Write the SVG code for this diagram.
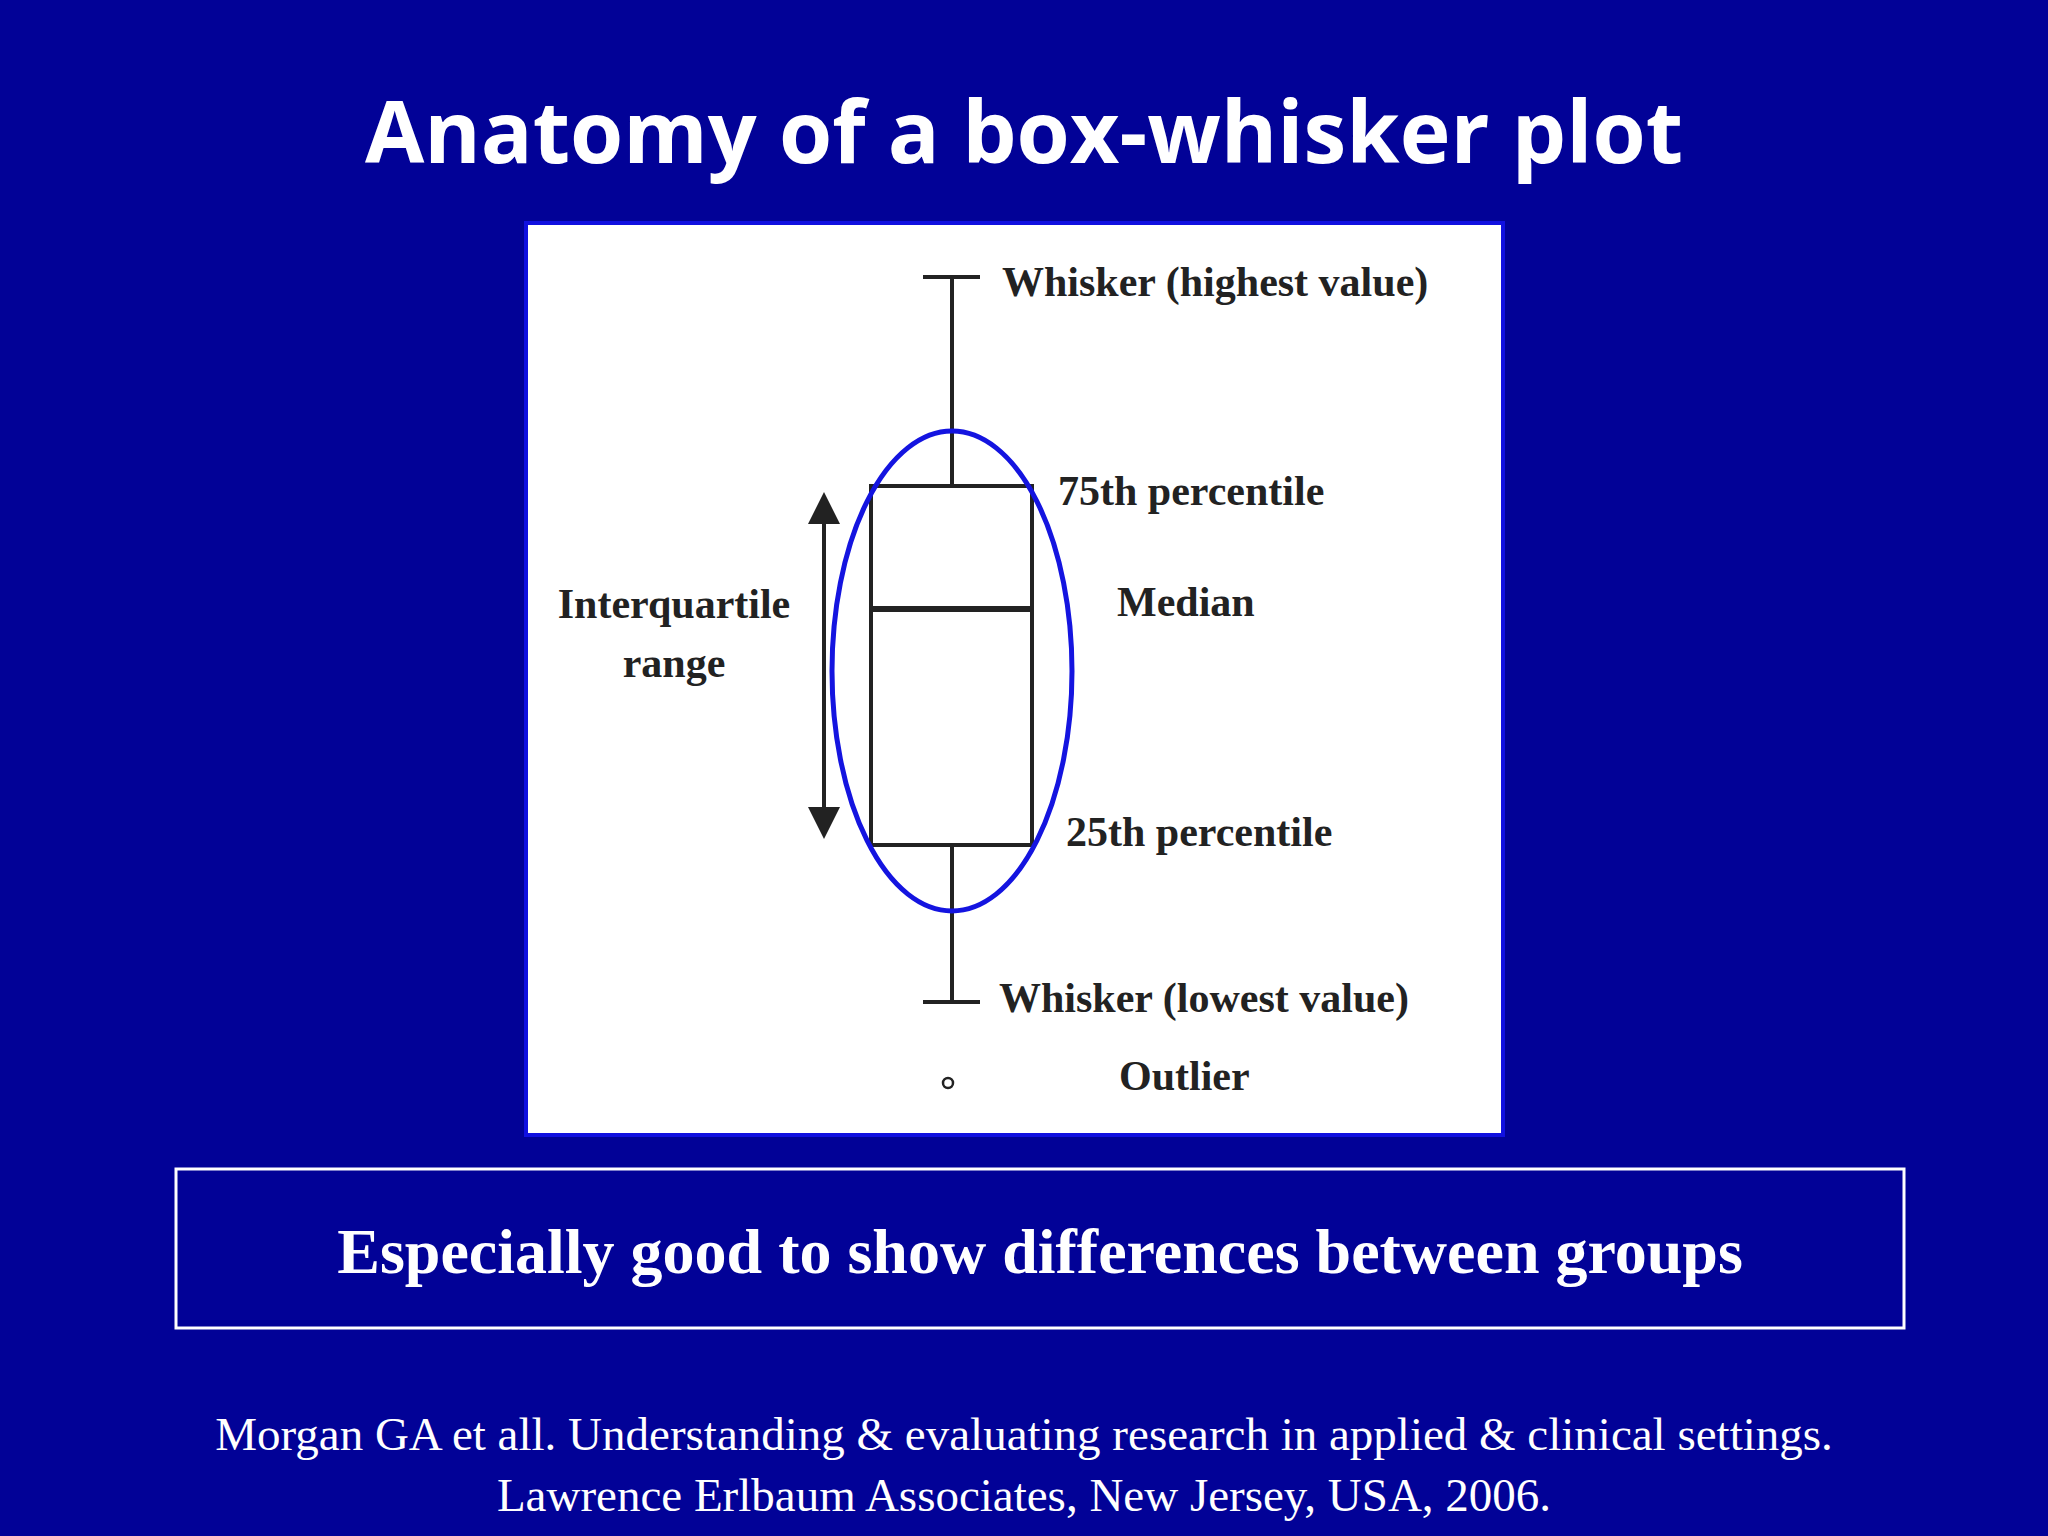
<svg xmlns="http://www.w3.org/2000/svg" width="2048" height="1536" viewBox="0 0 2048 1536">
<style>
.lbl{font-family:"Liberation Serif","Times New Roman",serif;font-weight:bold;font-size:42px;fill:#222}
.ln{stroke:#222;stroke-width:4;fill:none}
.cit{font-family:"Liberation Serif",serif;font-size:47px;fill:#fff;text-anchor:middle}
</style>
<defs><marker id="ah" markerWidth="8" markerHeight="8" refX="7" refY="4" orient="auto-start-reverse" markerUnits="strokeWidth"><path d="M0,0 L8,4 L0,8 z" fill="#222"/></marker></defs>
<rect width="2048" height="1536" fill="#020297"/>
<text x="1024" y="163" text-anchor="middle" font-family="'Open Sans','Liberation Sans',sans-serif" font-weight="bold" font-size="86" fill="#fff">Anatomy of a box-whisker plot</text>
<g id="panel"><rect x="526" y="223" width="977" height="912" fill="#fff" stroke="#1010e0" stroke-width="4"/></g>
<g id="plot">
<line class="ln" x1="952" y1="277" x2="952" y2="486"/>
<line class="ln" x1="923" y1="277" x2="980" y2="277"/>
<rect class="ln" x="871" y="486" width="161" height="359"/>
<line x1="871" y1="609" x2="1032" y2="609" stroke="#222" stroke-width="6"/>
<line class="ln" x1="952" y1="845" x2="952" y2="1002"/>
<line class="ln" x1="923" y1="1002" x2="980" y2="1002"/>
<circle cx="948" cy="1083" r="5" fill="none" stroke="#222" stroke-width="2.5"/>
<ellipse cx="952" cy="671" rx="120" ry="240" fill="none" stroke="#1414e0" stroke-width="5"/>
</g>
<g id="connectors"><line x1="824" y1="496" x2="824" y2="835" stroke="#222" stroke-width="4" marker-start="url(#ah)" marker-end="url(#ah)"/></g>
<g id="labels">
<text class="lbl" x="1002" y="296">Whisker (highest value)</text>
<text class="lbl" x="1058" y="505">75th percentile</text>
<text class="lbl" x="1117" y="616">Median</text>
<text class="lbl" x="674" y="618" text-anchor="middle">Interquartile</text>
<text class="lbl" x="674" y="677" text-anchor="middle">range</text>
<text class="lbl" x="1066" y="846">25th percentile</text>
<text class="lbl" x="999" y="1012">Whisker (lowest value)</text>
<text class="lbl" x="1119" y="1090">Outlier</text>
</g>
<g id="note"><rect x="176" y="1169" width="1728" height="159" fill="none" stroke="#fff" stroke-width="3"/>
<text x="1040" y="1273" text-anchor="middle" font-family="'Liberation Serif',serif" font-weight="bold" font-size="64" fill="#fff">Especially good to show differences between groups</text></g>
<text class="cit" x="1024" y="1450">Morgan GA et all. Understanding &amp; evaluating research in applied &amp; clinical settings.</text>
<text class="cit" x="1024" y="1511">Lawrence Erlbaum Associates,  New Jersey, USA, 2006.</text>
</svg>
